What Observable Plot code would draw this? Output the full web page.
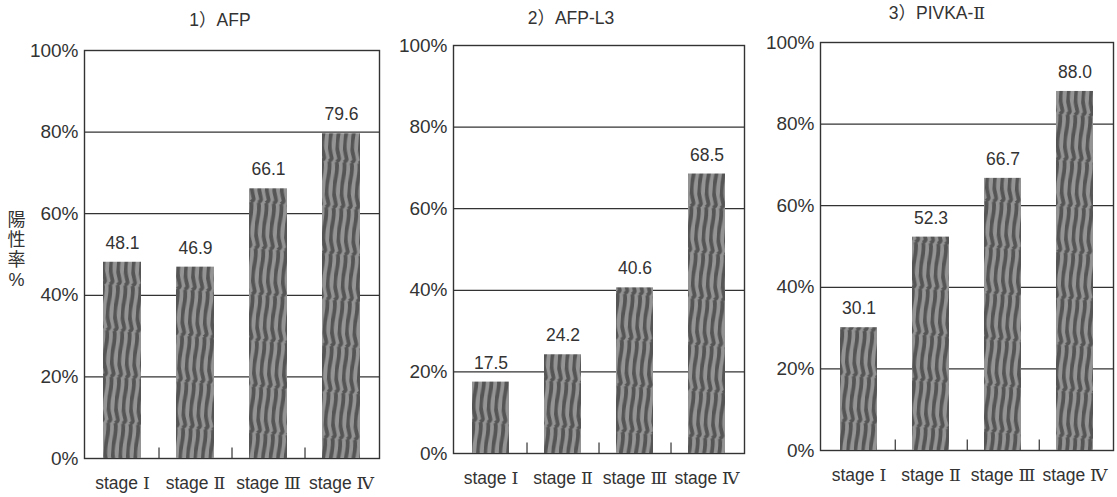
<!DOCTYPE html>
<html>
<head>
<meta charset="utf-8">
<script src="https://cdn.jsdelivr.net/npm/d3@7"></script>
<script src="https://cdn.jsdelivr.net/npm/@observablehq/plot@0.6"></script>
<style>
  html, body { margin: 0; padding: 0; background: #fff; }
  #chart { position: relative; width: 1117px; height: 497px; overflow: hidden; }
  #chart > svg.panel { position: absolute; top: 0; }
</style>
</head>
<body>
<div id="chart"></div>
<script>
// Stage categories shared by all three markers
const stages = ["stage Ⅰ", "stage Ⅱ", "stage Ⅲ", "stage Ⅳ"];

// Positive rate (%) per stage for each tumour marker
const afpRates = [48.1, 46.9, 66.1, 79.6];
const afpL3Rates = [17.5, 24.2, 40.6, 68.5];
const pivkaRates = [30.1, 52.3, 66.7, 88.0];

const panelTitles = ["1）AFP", "2）AFP-L3", "3）PIVKA-Ⅱ"];
const yTicks = [0, 20, 40, 60, 80, 100];
const yAxisLabel = "陽\n性\n率\n%";

// Roman numerals come from a serif face; everything else from Liberation Sans
const font = "'Liberation Sans', 'DejaVu Serif', 'Noto Sans CJK JP', sans-serif";
const ink = "#333";

// Striped fill for the bars (shared pattern definition)
const defs = d3.select("#chart").append("svg")
  .attr("width", 0).attr("height", 0)
  .style("position", "absolute");
const pat = defs.append("defs").append("pattern")
  .attr("id", "stripes")
  .attr("patternUnits", "userSpaceOnUse")
  .attr("width", 7.5).attr("height", 46)
  .attr("patternTransform", "rotate(4)");
pat.append("rect").attr("width", 7.5).attr("height", 46).attr("fill", "#949494");
pat.append("path")
  .attr("d", "M2.2,0 C5.2,11 -0.8,23 2.2,34.5 S5.2,42 2.2,46")
  .attr("fill", "none").attr("stroke", "#555").attr("stroke-width", 3.8);

// Layout of the three side-by-side panels
const panels = [
  {values: afpRates,   left: 0,   width: 380, mL: 84, mR: 1, mT: 50, mB: 39, tdx: -12, tdy: -30, yLabel: true},
  {values: afpL3Rates, left: 380, width: 370, mL: 73, mR: 6, mT: 45, mB: 44, tdx: -28, tdy: -27, yLabel: false},
  {values: pivkaRates, left: 750, width: 367, mL: 70, mR: 4, mT: 42, mB: 47, tdx: -30, tdy: -29, yLabel: false}
];

const paddingInner = 0.48, paddingOuter = 0.26;

panels.forEach((p, i) => {
  const rows = stages.map((s, j) => ({stage: s, value: p.values[j]}));
  const innerW = p.width - p.mL - p.mR;
  const step = innerW / (stages.length - paddingInner + 2 * paddingOuter);

  const marks = [
    Plot.gridY(yTicks.slice(1, -1), {stroke: ink, strokeOpacity: 1, strokeWidth: 1.3}),
    Plot.frame({stroke: ink, strokeWidth: 1.4}),
    Plot.barY(rows, {x: "stage", y: "value", fill: "url(#stripes)"}),
    // short separators between stage categories along the baseline
    Plot.ruleX(stages.slice(0, -1), {x: d => d, dx: step / 2, y1: 0, y2: 2.6, stroke: ink, strokeWidth: 1.2}),
    Plot.text(rows, {x: "stage", y: "value", text: d => d.value.toFixed(1), dy: -19,
      fontSize: 17.5, fill: ink}),
    Plot.text([panelTitles[i]], {frameAnchor: "top", lineAnchor: "middle", dx: p.tdx, dy: p.tdy,
      fontSize: 17.5, fill: ink}),
    Plot.axisY(yTicks, {tickSize: 0, tickPadding: 6, tickFormat: d => d + "%", fontSize: 19, fill: ink, label: null}),
    Plot.axisX({tickSize: 0, tickPadding: 18, fontSize: 17.5, fill: ink, label: null})
  ];
  if (p.yLabel) {
    marks.push(Plot.text([yAxisLabel], {frameAnchor: "left", lineAnchor: "middle", dx: -68, dy: -5,
      lineHeight: 1.1, fontSize: 18, fill: ink, textAnchor: "middle"}));
  }

  const svg = Plot.plot({
    width: p.width,
    height: 497,
    marginLeft: p.mL,
    marginRight: p.mR,
    marginTop: p.mT,
    marginBottom: p.mB,
    style: {fontFamily: font, background: "transparent", color: ink, overflow: "visible"},
    x: {domain: stages, paddingInner, paddingOuter},
    y: {domain: [0, 100]},
    marks
  });
  svg.classList.add("panel");
  svg.style.left = p.left + "px";
  document.getElementById("chart").appendChild(svg);
});
</script>
</body>
</html>
